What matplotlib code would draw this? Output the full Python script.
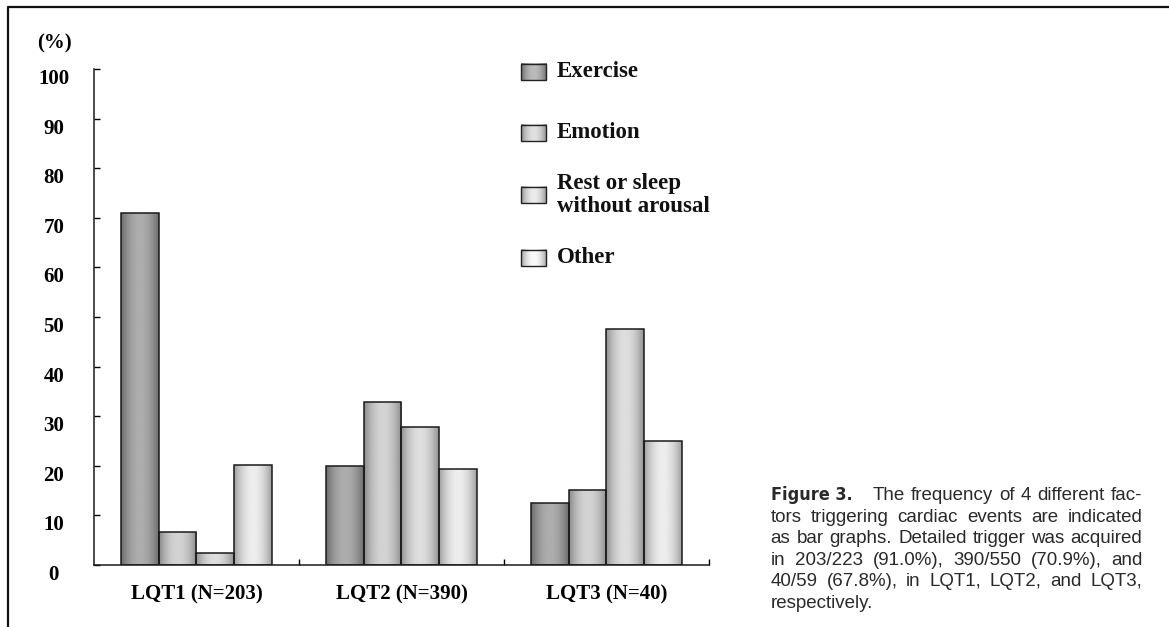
import matplotlib
matplotlib.use("Agg")
import matplotlib.pyplot as plt
import numpy as np
from matplotlib.lines import Line2D
from matplotlib.patches import Rectangle

# ---- data -------------------------------------------------------------
groups = ["LQT1 (N=203)", "LQT2 (N=390)", "LQT3 (N=40)"]
triggers = ["Exercise", "Emotion", "Rest or sleep\nwithout arousal", "Other"]
exercise = [71.0, 20.0, 12.4]
emotion = [6.6, 32.9, 15.1]
rest_sleep = [2.4, 27.8, 47.6]
other = [20.1, 19.3, 25.1]
yticks = list(range(0, 101, 10))

caption_lines = [
    "The frequency of 4 different fac-",
    "tors triggering cardiac events are indicated",
    "as bar graphs. Detailed trigger was acquired",
    "in 203/223 (91.0%), 390/550 (70.9%), and",
    "40/59 (67.8%), in LQT1, LQT2, and LQT3,",
    "respectively.",
]

# (edge grey, centre grey) for the cylinder-like shading of each series
shades = [(0.42, 0.68), (0.54, 0.83), (0.57, 0.87), (0.62, 0.93)]

W, H = 1169, 627
fig = plt.figure(figsize=(W / 100, H / 100), dpi=100)
ax = fig.add_axes([94 / W, 1 - 565 / H, (709 - 94) / W, (565 - 69) / H])

serif = "Liberation Serif"


def shade_row(edge, centre, n=80):
    t = np.linspace(0, 1, n)
    v = edge + (centre - edge) * (1 - np.abs(2 * t - 1) ** 2)
    return v[np.newaxis, :]


series = [exercise, emotion, rest_sleep, other]
x = np.arange(len(groups))
width = 0.183
offsets = (np.arange(4) - 1.5) * width

for vals, off, (e, c) in zip(series, offsets, shades):
    bars = ax.bar(x + off, vals, width, color=str((e + c) / 2), linewidth=0, zorder=1)
    for b in bars:
        im = ax.imshow(shade_row(e, c), cmap="gray", vmin=0, vmax=1,
                       extent=(b.get_x(), b.get_x() + b.get_width(), 0, b.get_height()),
                       aspect="auto", interpolation="bilinear", zorder=2)
        im.set_clip_path(b)
    ax.bar(x + off, vals, width, fill=False, edgecolor="#1a1a1a", linewidth=1.1, zorder=3)

ax.set_xlim(-0.5, 2.5)
ax.set_ylim(0, 100)
ax.set_aspect("auto")

for s in ["top", "right"]:
    ax.spines[s].set_visible(False)
for s in ["left", "bottom"]:
    ax.spines[s].set_linewidth(1.1)
    ax.spines[s].set_color("#1a1a1a")

ax.set_yticks(yticks)
ax.set_yticklabels([str(v) for v in yticks], fontfamily=serif, fontweight="bold", fontsize=15)
ax.tick_params(axis="y", direction="in", length=4, width=1, pad=29)
plt.setp(ax.get_yticklabels(), ha="center", va="top")

ax.set_xticks(x)
ax.set_xticklabels(groups, fontfamily=serif, fontweight="bold", fontsize=15)
ax.set_xticks(x + 0.5, minor=True)
ax.tick_params(axis="x", which="major", length=0, pad=14)
ax.tick_params(axis="x", which="minor", direction="in", length=4, width=1)

# ---- legend drawn by hand (uneven spacing in the original) -------------
leg_y = [0.994, 0.871, 0.746, 0.619]
px, pw, ph = 0.694, 0.041, 0.034
for lab, (e, c), ly in zip(triggers, shades, leg_y):
    r = Rectangle((px, ly - ph / 2), pw, ph, transform=ax.transAxes,
                  facecolor="none", edgecolor="#222222", lw=1.0, clip_on=False, zorder=5)
    ax.add_patch(r)
    im = ax.imshow(shade_row(e, min(c + 0.05, 1.0)), cmap="gray", vmin=0, vmax=1,
                   extent=(px, px + pw, ly - ph / 2, ly + ph / 2), transform=ax.transAxes,
                   aspect="auto", interpolation="bilinear", zorder=4, clip_on=False)
    ax.text(0.753, ly, lab, transform=ax.transAxes, fontfamily=serif, fontweight="bold",
            fontsize=16.5, va="center", ha="left", linespacing=1.15, color="#111111")

ax.set_xlim(-0.5, 2.5)
ax.set_ylim(0, 100)

fig.text(54 / W, 1 - 43 / H, "(%)", fontfamily=serif, fontweight="bold", fontsize=15,
         ha="center", va="center")

# ---- page frame ----------------------------------------------------------
fig.add_artist(Line2D([8 / W, 8 / W, 1], [0, 1 - 7 / H, 1 - 7 / H],
                      transform=fig.transFigure, color="#111111", lw=1.6))

# ---- justified caption ---------------------------------------------------
renderer = fig.canvas.get_renderer()
cap_left, cap_right = 770.7, 1142.3
base0, step = 500.0, 21.6
cap_font = dict(fontfamily="Liberation Sans", fontsize=13.5, color="#2a2a2a")

for i, line in enumerate(caption_lines):
    yb = 1 - (base0 + i * step) / H
    tokens = []
    if i == 0:
        tokens.append(("Figure 3.", dict(fontfamily="DejaVu Sans", fontstretch="condensed",
                                         fontweight="bold", fontsize=13, color="#2a2a2a")))
    tokens += [(w, cap_font) for w in line.split()]
    texts = [fig.text(0, yb, t, va="baseline", ha="left", **kw) for t, kw in tokens]
    widths = [t.get_window_extent(renderer).width for t in texts]
    if i == len(caption_lines) - 1:
        gap = 5.0
    else:
        gap = (cap_right - cap_left - sum(widths)) / (len(texts) - 1)
    if i == 0:
        # wider space after the bold label, as in the original
        rest_gap = (cap_right - cap_left - sum(widths) - 20) / (len(texts) - 2)
    xpos = cap_left
    for j, (t, w) in enumerate(zip(texts, widths)):
        t.set_x(xpos / W)
        if i == 0:
            xpos += w + (20 if j == 0 else rest_gap)
        else:
            xpos += w + gap

fig.savefig("out.png", dpi=100)
